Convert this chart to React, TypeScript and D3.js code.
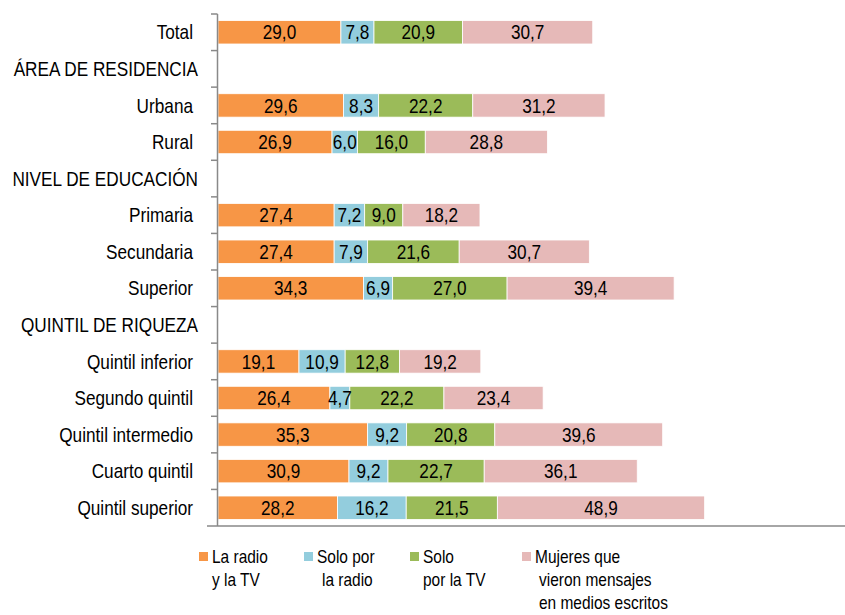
import React, { useEffect, useRef } from 'react';
import * as d3 from 'd3';

// rows of the chart; header rows have no values
const rowLabels = [
  'Total',
  'ÁREA DE RESIDENCIA',
  'Urbana',
  'Rural',
  'NIVEL DE EDUCACIÓN',
  'Primaria',
  'Secundaria',
  'Superior',
  'QUINTIL DE RIQUEZA',
  'Quintil inferior',
  'Segundo quintil',
  'Quintil intermedio',
  'Cuarto quintil',
  'Quintil superior',
];
const headerRows = ['ÁREA DE RESIDENCIA', 'NIVEL DE EDUCACIÓN', 'QUINTIL DE RIQUEZA'];

const radioTv = [29.0, null, 29.6, 26.9, null, 27.4, 27.4, 34.3, null, 19.1, 26.4, 35.3, 30.9, 28.2];
const soloRadio = [7.8, null, 8.3, 6.0, null, 7.2, 7.9, 6.9, null, 10.9, 4.7, 9.2, 9.2, 16.2];
const soloTv = [20.9, null, 22.2, 16.0, null, 9.0, 21.6, 27.0, null, 12.8, 22.2, 20.8, 22.7, 21.5];
const escritos = [30.7, null, 31.2, 28.8, null, 18.2, 30.7, 39.4, null, 19.2, 23.4, 39.6, 36.1, 48.9];

const seriesNames = [
  ['La radio', 'y la TV'],
  ['Solo por', 'la radio'],
  ['Solo', 'por la TV'],
  ['Mujeres que', 'vieron mensajes', 'en medios escritos'],
];
const colors = ['#F79646', '#93CDDD', '#9BBB59', '#E6B9B8'];

const W = 845;
const H = 615;
const FONT = '"Liberation Sans", Arial, sans-serif';
const FS = 20;
const SQUEEZE = 0.86; // narrow look of the original font

export default function App() {
  const ref = useRef<SVGSVGElement>(null);

  useEffect(() => {
    const svg = d3.select(ref.current);
    svg.selectAll('*').remove();

    const x = d3.scaleLinear().domain([0, 120]).range([218, 218 + 120 * 4.239]);
    const y = d3.scaleBand().domain(rowLabels).range([14, 526]).paddingInner(0.36).paddingOuter(0.18);

    // condensed text helper
    const label = (px: number, py: number, t: string, anchor = 'start', size = FS) =>
      svg.append('text')
        .attr('transform', `translate(${px},${py}) scale(${SQUEEZE},1)`)
        .attr('dy', '0.36em')
        .attr('text-anchor', anchor)
        .attr('font-size', size)
        .attr('fill', '#000')
        .text(t);

    const table = rowLabels.map((name, i) => ({
      name,
      values: [radioTv[i], soloRadio[i], soloTv[i], escritos[i]],
    }));

    // bars
    table.forEach(row => {
      if (row.values[0] == null) return;
      let acc = 0;
      row.values.forEach((v, k) => {
        const x0 = x(acc);
        const x1 = x(acc + (v as number));
        acc += v as number;
        svg.append('rect')
          .attr('x', x0)
          .attr('y', y(row.name)!)
          .attr('width', x1 - x0)
          .attr('height', y.bandwidth())
          .attr('fill', colors[k])
          .attr('stroke', '#fff')
          .attr('stroke-width', 0.8);
      });
    });
    table.forEach(row => {
      if (row.values[0] == null) return;
      let acc = 0;
      row.values.forEach(v => {
        const mid = x(acc + (v as number) / 2);
        acc += v as number;
        label(mid, y(row.name)! + y.bandwidth() / 2, d3.format('.1f')(v as number).replace('.', ','), 'middle');
      });
    });

    // axes
    svg.append('line')
      .attr('x1', 217.5).attr('x2', 217.5)
      .attr('y1', 14).attr('y2', 526)
      .attr('stroke', '#898989').attr('stroke-width', 1.5);
    svg.append('line')
      .attr('x1', 207).attr('x2', W)
      .attr('y1', 526).attr('y2', 526)
      .attr('stroke', '#898989').attr('stroke-width', 1.5);
    const step = y.step();
    d3.range(rowLabels.length).forEach(i => {
      svg.append('line')
        .attr('x1', 211).attr('x2', 217.5)
        .attr('y1', 14 + i * step).attr('y2', 14 + i * step)
        .attr('stroke', '#898989').attr('stroke-width', 1.5);
    });

    // category labels
    rowLabels.forEach(name => {
      const isHeader = headerRows.includes(name);
      label(isHeader ? 198 : 193, y(name)! + y.bandwidth() / 2, name, 'end');
    });

    // legend
    const legendX = [199, 304, 410, 522];
    const indent = [0, 5, 0, 4];
    seriesNames.forEach((lines, k) => {
      svg.append('rect')
        .attr('x', legendX[k]).attr('y', 552)
        .attr('width', 9).attr('height', 9)
        .attr('fill', colors[k]);
      lines.forEach((t, j) => {
        label(legendX[k] + 13 + (j === 0 ? 0 : indent[k]), 557 + j * 23, t, 'start', 18);
      });
    });
  }, []);

  return (
    <svg
      ref={ref}
      width={W}
      height={H}
      style={{ position: 'absolute', left: 0, top: 0, fontFamily: FONT, background: '#fff' }}
    />
  );
}
